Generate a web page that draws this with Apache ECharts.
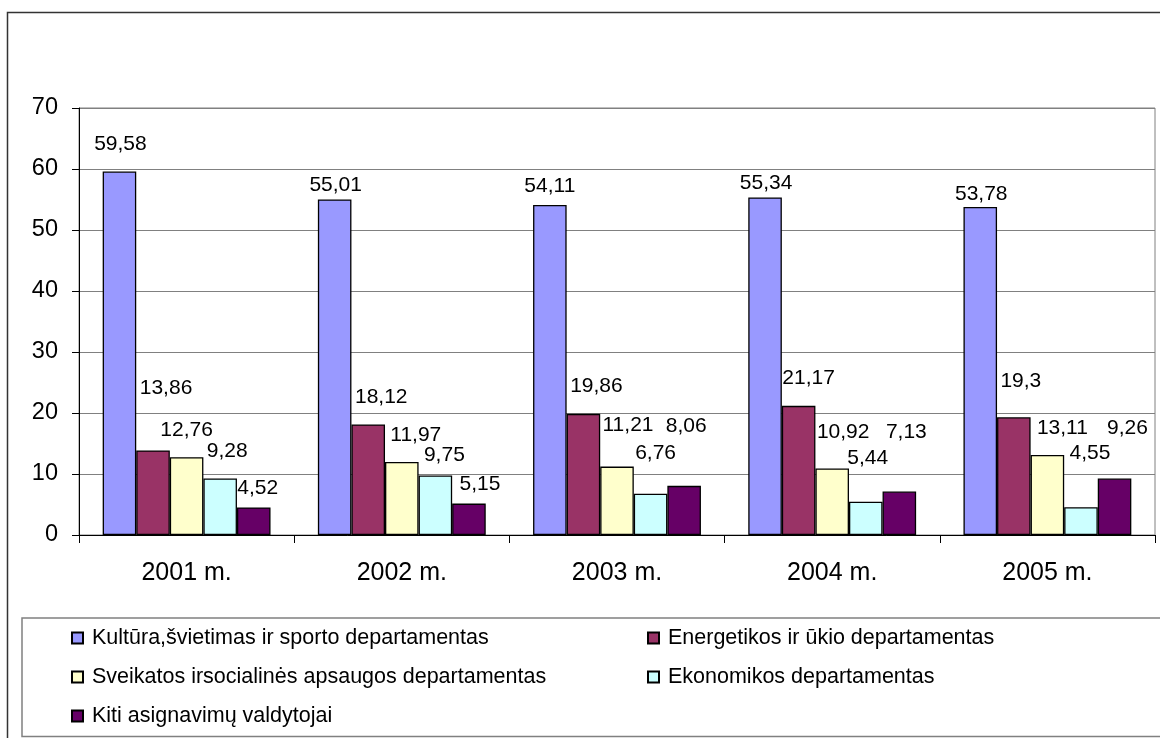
<!DOCTYPE html>
<html>
<head>
<meta charset="utf-8">
<script src="https://cdn.jsdelivr.net/npm/echarts@6/dist/echarts.min.js"></script>
<style>
  html, body { margin: 0; padding: 0; background: #fff; }
  #chart { width: 1160px; height: 738px; }
</style>
</head>
<body>
<div id="chart"></div>
<script>
// duomenys (mln. Lt / %)
const years = ['2001 m.', '2002 m.', '2003 m.', '2004 m.', '2005 m.'];
const departments = [
  'Kultūra,švietimas ir sporto departamentas',
  'Energetikos ir ūkio departamentas',
  'Sveikatos irsocialinės apsaugos departamentas',
  'Ekonomikos departamentas',
  'Kiti asignavimų valdytojai'
];
const kultura    = [59.58, 55.01, 54.11, 55.34, 53.78];
const energetika = [13.86, 18.12, 19.86, 21.17, 19.3];
const sveikata   = [12.76, 11.97, 11.21, 10.92, 13.11];
const ekonomika  = [9.28, 9.75, 6.76, 5.44, 4.55];
const kiti       = [4.52, 5.15, 8.06, 7.13, 9.26];
const yTicks     = [0, 10, 20, 30, 40, 50, 60, 70];

const colors = ['#9999FF', '#993366', '#FFFFCC', '#CCFFFF', '#660066'];
// rankiniu budu perkelti etikeciu poslinkiai (kaip originale), px nuo stulpelio virsaus
const labelNudge = [
  [[1, -27], [1, -14], [0, -19], [1, -14], [1, -13]],
  [[13, -62], [13, -27], [13, -28], [10, -28], [7, -36]],
  [[0, -27], [14, -27], [11, -41], [11, -36], [15, -27]],
  [[7, -27], [9, -20], [5, -41], [2, -44], [9, -54]],
  [[4, -19], [11, -19], [2, -60], [7, -59], [13, -50]]
];

const FONT = "'Liberation Sans', Arial, sans-serif";
const values = [kultura, energetika, sveikata, ekonomika, kiti];

const series = values.map(function (arr, s) {
  return {
    name: departments[s],
    type: 'bar',
    barGap: '0%',
    barCategoryGap: '22%',
    itemStyle: { color: colors[s], borderColor: '#000', borderWidth: 1.3 },
    label: {
      show: true,
      position: 'top',
      distance: 0,
      verticalAlign: 'middle',
      color: '#000',
      fontFamily: FONT,
      fontSize: 21,
      formatter: function (p) { return String(p.value).replace('.', ','); }
    },
    data: arr.map(function (v, i) {
      return { value: v, label: { offset: labelNudge[s][i] } };
    })
  };
});

const legendText = { fontFamily: FONT, fontSize: 21.5, lineHeight: 20, color: '#000', padding: [0, 0, 0, 4] };

const myChart = echarts.init(document.getElementById('chart'), null, { renderer: 'canvas' });
const option = {
  animation: false,
  color: colors,
  grid: {
    show: true, borderColor: '#808080', borderWidth: 1,
    left: 79, right: 5, top: 108, bottom: 203
  },
  legend: [{
    orient: 'vertical', left: 71, top: 627, padding: 0,
    itemWidth: 11, itemHeight: 11, itemGap: 17,
    icon: 'rect',
    textStyle: legendText,
    data: [departments[0], departments[2], departments[4]]
  }, {
    orient: 'vertical', left: 647, top: 627, padding: 0,
    itemWidth: 11, itemHeight: 11, itemGap: 17,
    icon: 'rect',
    textStyle: legendText,
    data: [departments[1], departments[3]]
  }],
  xAxis: {
    type: 'category',
    data: years,
    boundaryGap: true,
    axisLine: { lineStyle: { color: '#000', width: 1 } },
    axisTick: { show: true, interval: 0, length: 8, lineStyle: { color: '#000' } },
    axisLabel: { fontFamily: FONT, fontSize: 25, color: '#000', margin: 26 },
    splitLine: { show: false }
  },
  yAxis: {
    type: 'value',
    min: yTicks[0],
    max: yTicks[yTicks.length - 1],
    interval: 10,
    axisLine: { show: true, lineStyle: { color: '#000', width: 1 } },
    axisTick: { show: true, length: 7, lineStyle: { color: '#000' } },
    axisLabel: { fontFamily: FONT, fontSize: 23.5, color: '#000', margin: 21 },
    splitLine: { lineStyle: { color: '#808080', width: 1.2 } }
  },
  graphic: [{
    type: 'rect', z: -10,
    shape: { x: 7.5, y: 12.5, width: 1200, height: 800 },
    style: { fill: 'none', stroke: '#333', lineWidth: 1.5 }
  }, {
    type: 'rect', z: -10,
    shape: { x: 22, y: 618, width: 1200, height: 118.5 },
    style: { fill: 'none', stroke: '#808080', lineWidth: 1.5 }
  }],
  series: series
};
myChart.setOption(option);
window.onresize = function () { myChart.resize(); };
</script>
</body>
</html>
